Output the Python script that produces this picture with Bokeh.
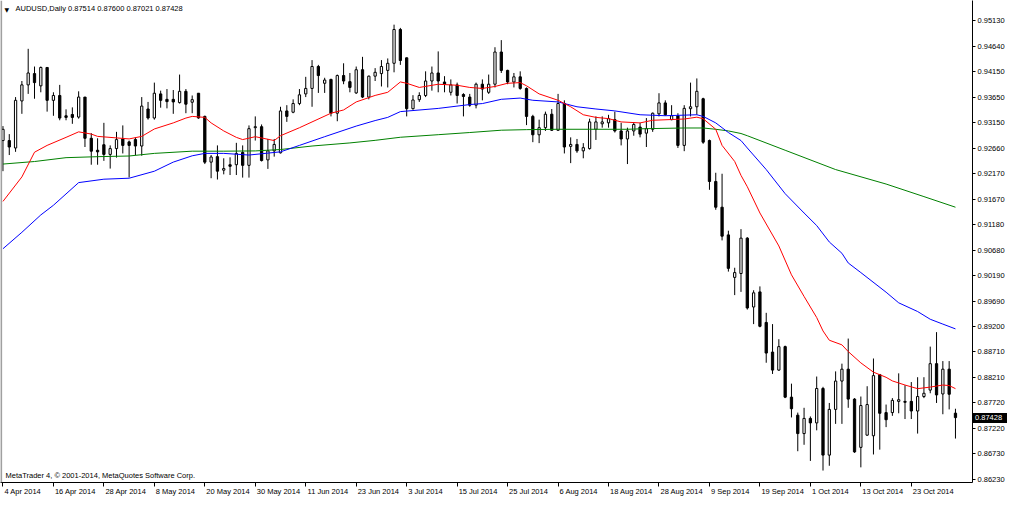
from bokeh.plotting import figure
from bokeh.models import (Range1d, LinearAxis, FixedTicker, PrintfTickFormatter,
                          Label, Span, ColumnDataSource, Div)
from bokeh.embed import file_html
from bokeh.resources import INLINE

symbol_title = "AUDUSD,Daily  0.87514 0.87600 0.87021 0.87428"
copyright_text = "MetaTrader 4, \u00a9 2001-2014, MetaQuotes Software Corp."
last_price = 0.87428

opens = [0.92806, 0.92806, 0.92662, 0.93575, 0.93887, 0.94106, 0.93868, 0.94225, 0.93587, 0.93681,
         0.93287, 0.93312, 0.93262, 0.93650, 0.92850, 0.92618, 0.92725, 0.92537, 0.92650, 0.92837,
         0.92780, 0.92825, 0.92700, 0.93419, 0.93244, 0.93712, 0.93606, 0.93606, 0.93543, 0.93762,
         0.93550, 0.93725, 0.93275, 0.92387, 0.92494, 0.92231, 0.92337, 0.92337, 0.92575, 0.92325,
         0.93056, 0.93075, 0.92431, 0.92606, 0.92568, 0.93381, 0.93356, 0.93525, 0.93712, 0.93818,
         0.94244, 0.93918, 0.93993, 0.93337, 0.94068, 0.93950, 0.93731, 0.94181, 0.93650, 0.94056,
         0.94106, 0.94168, 0.94306, 0.94962, 0.94412, 0.93425, 0.93600, 0.93681, 0.93962, 0.94118,
         0.93943, 0.93743, 0.93887, 0.93700, 0.93650, 0.93493, 0.93900, 0.93743, 0.93900, 0.94525,
         0.94168, 0.93943, 0.94043, 0.93818, 0.93275, 0.92918, 0.93056, 0.93318, 0.93006, 0.93525,
         0.92693, 0.92731, 0.92606, 0.92650, 0.93025, 0.93131, 0.93150, 0.93212, 0.92993, 0.92837,
         0.92993, 0.93068, 0.92950, 0.93025, 0.93325, 0.93537, 0.93212, 0.93287, 0.92712, 0.93425,
         0.93462, 0.93618, 0.92806, 0.92012, 0.91512, 0.90975, 0.90150, 0.90225, 0.90912, 0.89575,
         0.89868, 0.89275, 0.88700, 0.88350, 0.88806, 0.87825, 0.87475, 0.87118, 0.87412, 0.87325,
         0.87993, 0.86700, 0.87587, 0.88137, 0.88368, 0.87787, 0.86850, 0.87087, 0.87075, 0.88262,
         0.87525, 0.87525, 0.87743, 0.87743, 0.87743, 0.87556, 0.87837, 0.87962, 0.88475, 0.87887,
         0.88368, 0.87514]
highs = [0.93087, 0.92931, 0.93650, 0.93962, 0.94587, 0.94243, 0.94243, 0.94225, 0.93743, 0.93887,
         0.93412, 0.93450, 0.93762, 0.93650, 0.92950, 0.92850, 0.93150, 0.92712, 0.92975, 0.93100,
         0.92806, 0.92868, 0.93650, 0.93556, 0.93931, 0.93775, 0.93806, 0.93787, 0.94087, 0.93806,
         0.93681, 0.93725, 0.93290, 0.92525, 0.92712, 0.92462, 0.92481, 0.92762, 0.92712, 0.93100,
         0.93275, 0.93119, 0.92837, 0.92837, 0.93462, 0.93493, 0.93606, 0.93806, 0.94043, 0.94368,
         0.94275, 0.94025, 0.94006, 0.94087, 0.94306, 0.94118, 0.94243, 0.94431, 0.94068, 0.94212,
         0.94368, 0.94400, 0.95056, 0.94993, 0.94418, 0.93687, 0.93743, 0.94150, 0.94243, 0.94537,
         0.94056, 0.93993, 0.93931, 0.93725, 0.93712, 0.93931, 0.93993, 0.94087, 0.94618, 0.94756,
         0.94181, 0.94118, 0.94150, 0.93837, 0.93306, 0.93212, 0.93368, 0.93418, 0.93712, 0.93587,
         0.92868, 0.92837, 0.92756, 0.93231, 0.93275, 0.93275, 0.93306, 0.93368, 0.93150, 0.93056,
         0.93162, 0.93150, 0.93243, 0.93350, 0.93725, 0.93587, 0.93493, 0.93337, 0.93493, 0.93931,
         0.94012, 0.93637, 0.92825, 0.92181, 0.92162, 0.91056, 0.90337, 0.91087, 0.90931, 0.89900,
         0.89975, 0.89462, 0.89243, 0.88950, 0.88825, 0.88087, 0.87525, 0.87618, 0.87450, 0.88225,
         0.88025, 0.87712, 0.88325, 0.88475, 0.88962, 0.87806, 0.87837, 0.88037, 0.88575, 0.88275,
         0.87681, 0.87806, 0.88287, 0.88056, 0.88118, 0.88212, 0.88212, 0.88806, 0.89087, 0.88525,
         0.88525, 0.87600]
lows = [0.92212, 0.92525, 0.92587, 0.93325, 0.93712, 0.93618, 0.93743, 0.93368, 0.93287, 0.93200,
        0.93200, 0.93131, 0.93231, 0.92681, 0.92337, 0.92337, 0.92412, 0.92262, 0.92475, 0.92556,
        0.92090, 0.92525, 0.92512, 0.93212, 0.93212, 0.93444, 0.93431, 0.93325, 0.93525, 0.93337,
        0.93337, 0.93230, 0.92350, 0.92075, 0.92050, 0.92150, 0.92137, 0.92137, 0.92087, 0.92087,
        0.92806, 0.92400, 0.92256, 0.92494, 0.92556, 0.93169, 0.93337, 0.93493, 0.93650, 0.93462,
        0.93731, 0.93731, 0.93275, 0.93181, 0.93900, 0.93743, 0.93712, 0.93631, 0.93606, 0.93962,
        0.93856, 0.93837, 0.94131, 0.94275, 0.93275, 0.93406, 0.93556, 0.93650, 0.93775, 0.93743,
        0.93743, 0.93681, 0.93525, 0.93275, 0.93462, 0.93431, 0.93587, 0.93712, 0.93837, 0.94118,
        0.93900, 0.93837, 0.93793, 0.93106, 0.92775, 0.92756, 0.92993, 0.92993, 0.92993, 0.92556,
        0.92368, 0.92568, 0.92462, 0.92631, 0.92818, 0.93056, 0.93056, 0.92962, 0.92712, 0.92350,
        0.92900, 0.92868, 0.92681, 0.92975, 0.93275, 0.93287, 0.93200, 0.92662, 0.92600, 0.93275,
        0.93306, 0.92743, 0.91850, 0.91462, 0.90868, 0.90262, 0.89806, 0.89868, 0.89525, 0.89243,
        0.89181, 0.88493, 0.88275, 0.88337, 0.87806, 0.87431, 0.86775, 0.86900, 0.86587, 0.87181,
        0.86400, 0.86493, 0.87306, 0.87306, 0.87618, 0.86743, 0.86462, 0.87075, 0.86712, 0.86806,
        0.87243, 0.87462, 0.87512, 0.87400, 0.87400, 0.87118, 0.87806, 0.87900, 0.87712, 0.87493,
        0.87587, 0.87021]
closes = [0.93024, 0.92681, 0.93587, 0.93887, 0.94118, 0.93931, 0.94225, 0.93587, 0.93681, 0.93243,
          0.93256, 0.93256, 0.93650, 0.92850, 0.92600, 0.92587, 0.92537, 0.92650, 0.92825, 0.92712,
          0.92712, 0.92700, 0.93475, 0.93244, 0.93725, 0.93587, 0.93562, 0.93556, 0.93762, 0.93512,
          0.93600, 0.93244, 0.92387, 0.92487, 0.92212, 0.92262, 0.92306, 0.92556, 0.92325, 0.93037,
          0.93075, 0.92418, 0.92606, 0.92731, 0.93381, 0.93275, 0.93525, 0.93694, 0.93818, 0.94244,
          0.94068, 0.93981, 0.93337, 0.94068, 0.93962, 0.93837, 0.94181, 0.93650, 0.94056, 0.94131,
          0.94244, 0.94306, 0.94962, 0.94360, 0.93425, 0.93594, 0.93681, 0.93962, 0.94118, 0.93962,
          0.93900, 0.93887, 0.93681, 0.93662, 0.93493, 0.93900, 0.93806, 0.93900, 0.94525, 0.94168,
          0.93943, 0.94043, 0.93818, 0.93275, 0.92918, 0.93056, 0.93318, 0.93006, 0.93525, 0.92681,
          0.92731, 0.92606, 0.92668, 0.93168, 0.93168, 0.93168, 0.93231, 0.92993, 0.92837, 0.92993,
          0.93118, 0.92931, 0.93037, 0.93337, 0.93537, 0.93306, 0.93287, 0.92712, 0.93431, 0.93462,
          0.93762, 0.92775, 0.92012, 0.91512, 0.90950, 0.90325, 0.90243, 0.90912, 0.89556, 0.89850,
          0.89200, 0.88681, 0.88350, 0.88806, 0.87825, 0.87600, 0.87118, 0.87412, 0.87325, 0.87993,
          0.86700, 0.87587, 0.88137, 0.88368, 0.87787, 0.86762, 0.87662, 0.87681, 0.88243, 0.87512,
          0.87387, 0.87762, 0.87775, 0.87725, 0.87556, 0.87837, 0.87900, 0.88475, 0.87868, 0.88368,
          0.87881, 0.87428]

date_labels = ["4 Apr 2014", "16 Apr 2014", "28 Apr 2014", "8 May 2014", "20 May 2014",
               "30 May 2014", "11 Jun 2014", "23 Jun 2014", "3 Jul 2014", "15 Jul 2014",
               "25 Jul 2014", "6 Aug 2014", "18 Aug 2014", "28 Aug 2014", "9 Sep 2014",
               "19 Sep 2014", "1 Oct 2014", "13 Oct 2014", "23 Oct 2014"]
date_label_bars = [0, 8, 16, 24, 32, 40, 48, 56, 64, 72, 80, 88, 96, 104, 112, 120, 128, 136, 144]

price_ticks = [0.95130, 0.94640, 0.94150, 0.93650, 0.93150, 0.92660, 0.92170, 0.91670, 0.91180,
               0.90680, 0.90190, 0.89690, 0.89200, 0.88710, 0.88210, 0.87720, 0.87220, 0.86730,
               0.86230]

ma_red_bars = [0, 3, 5, 7, 10, 12, 14, 15, 20, 22, 24, 27, 29, 30, 32, 33, 35, 37, 38, 40, 43, 44,
               47, 52, 54, 56, 59, 61, 63, 64, 66, 69, 72, 74, 76, 78, 80, 82, 83, 85, 88, 90, 92,
               94, 96, 98, 101, 103, 108, 110, 111, 113, 114, 116, 117, 118, 120, 123, 125, 127,
               129, 130, 131, 133, 134, 136, 138, 140, 141, 143, 145, 147, 149, 150, 151]
ma_red = [0.91625, 0.92100, 0.92580, 0.92712, 0.92868, 0.92975, 0.92932, 0.92887, 0.92838, 0.92887,
          0.93031, 0.93149, 0.93243, 0.93275, 0.93256, 0.93149, 0.92993, 0.92868, 0.92825, 0.92881,
          0.92806, 0.92900, 0.93055, 0.93337, 0.93400, 0.93556, 0.93682, 0.93743, 0.93944, 0.93918,
          0.93837, 0.93899, 0.93880, 0.93837, 0.93818, 0.93856, 0.93918, 0.93931, 0.93869, 0.93712,
          0.93588, 0.93462, 0.93307, 0.93256, 0.93232, 0.93168, 0.93149, 0.93200, 0.93224, 0.93260,
          0.93230, 0.93025, 0.92712, 0.92400, 0.92130, 0.91910, 0.91400, 0.90760, 0.90200, 0.89780,
          0.89370, 0.89110, 0.88930, 0.88840, 0.88710, 0.88490, 0.88310, 0.88210, 0.88140, 0.88060,
          0.87990, 0.88020, 0.88060, 0.88050, 0.87990]

ma_blue_bars = [0, 3, 6, 8, 12, 16, 20, 24, 27, 30, 32, 35, 39, 44, 47, 51, 56, 59, 61, 63, 69, 74,
                76, 79, 82, 84, 88, 91, 94, 97, 101, 105, 110, 111, 113, 115, 117, 118, 121, 124,
                127, 129, 131, 133, 134, 136, 140, 142, 145, 147, 149, 151]
ma_blue = [0.90706, 0.91025, 0.91362, 0.91550, 0.91990, 0.92056, 0.92075, 0.92211, 0.92388, 0.92510,
           0.92557, 0.92557, 0.92525, 0.92587, 0.92712, 0.92881, 0.93087, 0.93194, 0.93256, 0.93368,
           0.93430, 0.93505, 0.93524, 0.93607, 0.93631, 0.93588, 0.93556, 0.93462, 0.93419, 0.93382,
           0.93307, 0.93288, 0.93307, 0.93275, 0.93149, 0.92962, 0.92806, 0.92662, 0.92243, 0.91775,
           0.91400, 0.91156, 0.90837, 0.90618, 0.90430, 0.90243, 0.89862, 0.89656, 0.89487, 0.89337,
           0.89243, 0.89150]

ma_green_bars = [0, 5, 10, 15, 20, 24, 30, 35, 40, 44, 49, 55, 59, 63, 69, 74, 79, 83, 88, 93, 99,
                 102, 108, 111, 113, 115, 117, 118, 124, 132, 140, 146, 151]
ma_green = [0.92350, 0.92399, 0.92474, 0.92493, 0.92506, 0.92557, 0.92600, 0.92600, 0.92605,
            0.92632, 0.92700, 0.92760, 0.92810, 0.92870, 0.92920, 0.92962, 0.93007, 0.93018,
            0.93025, 0.93025, 0.93025, 0.93037, 0.93050, 0.93050, 0.93025, 0.92993, 0.92943,
            0.92900, 0.92618, 0.92243, 0.91962, 0.91718, 0.91512]

# ---------------------------------------------------------------- layout
FONT = "Liberation Sans"
FS_PX = 7.5
FS = "%spx" % FS_PX
W, H = 1008, 498
BORDER_R, BORDER_B = 36, 15
FRAME_W, FRAME_H = W - BORDER_R, H - BORDER_B
X0, X1 = -0.39, 153.7
Y0, Y1 = 0.86168, 0.95525
PX_PER_BAR = FRAME_W / (X1 - X0)

_cw = {" ": 278, "A": 667, "p": 556, "r": 333, "M": 833, "a": 556, "y": 500, "J": 500,
       "u": 556, "n": 556, "l": 222, "g": 556, "S": 667, "e": 556, "O": 778, "c": 500, "t": 278}


def text_width(s):
    return sum(_cw.get(ch, 556) for ch in s) / 1000.0 * FS_PX


p = figure(width=W, height=H, output_backend="svg", toolbar_location=None,
           x_range=Range1d(X0, X1), y_range=Range1d(Y0, Y1),
           x_axis_location=None, y_axis_location=None,
           min_border_left=0, min_border_top=0, min_border_right=BORDER_R,
           min_border_bottom=BORDER_B,
           background_fill_color="white", border_fill_color="white")
p.outline_line_color = None
p.grid.visible = False

yax = LinearAxis(ticker=FixedTicker(ticks=price_ticks, minor_ticks=[]),
                 formatter=PrintfTickFormatter(format="%.5f"),
                 axis_line_color="black", axis_line_width=1,
                 major_tick_line_color="black", major_tick_out=3, major_tick_in=0,
                 minor_tick_out=0, minor_tick_in=0, major_label_standoff=2,
                 major_label_text_font=FONT, major_label_text_font_size=FS,
                 major_label_text_color="black")
p.add_layout(yax, "right")

xax = LinearAxis(ticker=FixedTicker(ticks=date_label_bars, minor_ticks=[]),
                 major_label_overrides={b: "" for b in date_label_bars},
                 axis_line_color="black", axis_line_width=1,
                 major_tick_line_color="black", major_tick_out=4, major_tick_in=0,
                 minor_tick_out=0, minor_tick_in=0, major_label_standoff=0,
                 major_label_text_font_size="1px")
p.add_layout(xax, "below")

label_pos = [round(b + (text_width(t) / 2.0 + 1.5) / PX_PER_BAR, 4)
             for b, t in zip(date_label_bars, date_labels)]
xlab = LinearAxis(ticker=FixedTicker(ticks=label_pos, minor_ticks=[]),
                  major_label_overrides={pos: t for pos, t in zip(label_pos, date_labels)},
                  axis_line_color=None, major_tick_line_color=None, minor_tick_line_color=None,
                  major_tick_out=0, major_tick_in=0, minor_tick_out=0, minor_tick_in=0,
                  major_label_standoff=0,
                  major_label_text_font=FONT, major_label_text_font_size=FS,
                  major_label_text_color="black")
p.add_layout(xlab, "below")

p.add_layout(Span(location=X0 + 0.1, dimension="height", line_color="#a0a0a0", line_width=2))

n = len(opens)
idx = list(range(n))
p.segment(x0=idx, y0=lows, x1=idx, y1=highs, line_color="black", line_width=1)
up_i = [i for i in idx if closes[i] >= opens[i]]
dn_i = [i for i in idx if closes[i] < opens[i]]
up = ColumnDataSource(dict(x=up_i, top=[closes[i] for i in up_i], bottom=[opens[i] for i in up_i]))
dn = ColumnDataSource(dict(x=dn_i, top=[opens[i] for i in dn_i], bottom=[closes[i] for i in dn_i]))
p.vbar(x="x", top="top", bottom="bottom", width=0.36, source=up,
       fill_color="white", line_color="black", line_width=1)
p.vbar(x="x", top="top", bottom="bottom", width=0.36, source=dn,
       fill_color="black", line_color="black", line_width=1)

p.line(ma_green_bars, ma_green, line_color="#008000", line_width=1)
p.line(ma_blue_bars, ma_blue, line_color="#0000ff", line_width=1)
p.line(ma_red_bars, ma_red, line_color="#ff0000", line_width=1)

p.add_layout(Label(x=X0, y=Y1, x_offset=4, y_offset=-5, text="\u25bc", text_align="left",
                   text_baseline="top", text_font="DejaVu Sans", text_font_size="6px",
                   text_color="black"))
p.add_layout(Label(x=X0, y=Y1, x_offset=15, y_offset=-3, text=symbol_title, text_align="left",
                   text_baseline="top", text_font=FONT, text_font_size=FS, text_color="black"))

p.add_layout(Label(x=X0, y=Y0, x_offset=5, y_offset=3, text=copyright_text, text_align="left",
                   text_baseline="bottom", text_font=FONT, text_font_size=FS, text_color="black"))

# current-price box over the price scale: an absolutely placed element on the plot
BOX_H = 10
price_sy = (Y1 - last_price) / (Y1 - Y0) * FRAME_H
try:
    box = Div(text="%.5f" % last_price, width=34, height=BOX_H,
              styles={"position": "absolute", "left": "%dpx" % (FRAME_W + 1),
                      "top": "%dpx" % round(price_sy - BOX_H / 2.0),
                      "width": "34px", "height": "%dpx" % BOX_H,
                      "background-color": "black", "color": "white",
                      "font-family": FONT, "font-size": FS,
                      "line-height": "%dpx" % BOX_H, "padding-left": "2px",
                      "box-sizing": "border-box", "z-index": "10", "margin": "0",
                      "overflow": "hidden", "white-space": "nowrap"})
    p.elements.append(box)
except Exception:
    pass

open("out.html", "w").write(file_html(p, INLINE))
